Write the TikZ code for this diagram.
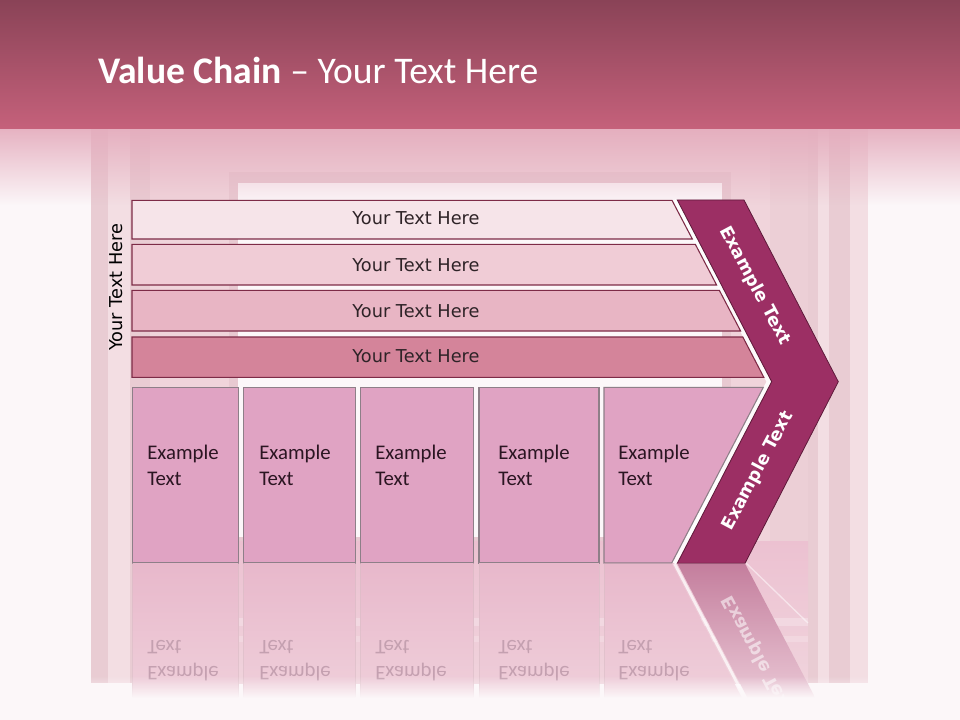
\documentclass[tikz,border=0pt]{standalone}
\usepackage{fontspec}
\setmainfont{Carlito}
\newfontfamily\dvs{DejaVu Sans}
\usetikzlibrary{fadings}
\definecolor{bg}{HTML}{FCF7F9}
\definecolor{hdrTop}{HTML}{8A4357}
\definecolor{hdrBot}{HTML}{C5617B}
\definecolor{hdrFade}{HTML}{E4ABBC}
\definecolor{frameA}{HTML}{F0D4DB}
\definecolor{stripDark}{HTML}{E9CCD3}
\definecolor{stripLight}{HTML}{F3DEE3}
\definecolor{winFrame}{HTML}{E8C9D1}
\definecolor{floorA}{HTML}{ECC1D1}
\definecolor{floorB}{HTML}{F0D3DC}
\definecolor{barA}{HTML}{F6E4E9}
\definecolor{barB}{HTML}{F0CCD6}
\definecolor{barC}{HTML}{E8B5C4}
\definecolor{barD}{HTML}{D4849A}
\definecolor{barLine}{HTML}{7D2B47}
\definecolor{boxFill}{HTML}{E0A3C3}
\definecolor{boxLine}{HTML}{8E7F88}
\definecolor{chevFill}{HTML}{9C2F64}
\definecolor{chevLine}{HTML}{5E1A3A}
\definecolor{boxTxt}{HTML}{2B1522}
\definecolor{barTxt}{HTML}{2E2327}
\definecolor{reflTxt}{HTML}{C4A0B0}
\definecolor{reflBoxA}{HTML}{E8B8CB}
\definecolor{reflBoxB}{HTML}{EFCFDA}
\definecolor{reflChevA}{HTML}{C47E9D}
\definecolor{reflChevB}{HTML}{E9C6D4}
\tikzfading[name=hdrfade, top color=transparent!10, bottom color=transparent!100]
\tikzfading[name=botfade, top color=transparent!100, bottom color=transparent!0]
\begin{document}
\begin{tikzpicture}[x=0.75pt,y=-0.75pt,
  barst/.style={draw=barLine, line width=0.8pt},
  boxst/.style={draw=boxLine, line width=0.8pt, fill=boxFill},
  bartext/.style={font=\dvs\fontsize{13.3}{16}\selectfont, text=barTxt, inner sep=0pt, anchor=base},
  boxtext/.style={font=\fontsize{15.6}{19.5}\selectfont, text=boxTxt, inner sep=0pt, anchor=base west},
  refltext/.style={font=\fontsize{15.6}{19.5}\selectfont, text=reflTxt, inner sep=0pt, anchor=base west, transform shape},
  chevtext/.style={font=\dvs\bfseries\fontsize{13.2}{16}\selectfont, text=white, inner sep=0pt}]
\useasboundingbox (0,0) rectangle (960,720);
% page background
\fill[bg] (0,0) rectangle (960,720);
% room frame
\fill[frameA] (91,129) rectangle (868,683);
\fill[stripDark] (91,129) rectangle (108,683);
\fill[stripLight] (108,129) rectangle (130,683);
\fill[stripDark] (130,129) rectangle (150,683);
\fill[stripDark!60!frameA] (770,129) rectangle (808,683);
\fill[stripDark] (808,129) rectangle (818,683);
\fill[stripLight] (818,129) rectangle (829,683);
\fill[stripDark] (829,129) rectangle (850,683);
\fill[stripLight] (850,129) rectangle (868,683);
% window
\fill[winFrame] (229,172) rectangle (731,541);
\fill[bg] (238,183) rectangle (722,537);
% floor
\shade[top color=floorA, bottom color=floorB] (150,541) rectangle (808,683);
\fill[white, opacity=0.25] (150,618) rectangle (808,626);
\fill[white, opacity=0.2] (150,636) rectangle (808,642);
\draw[white, opacity=0.5, line width=1pt] (746,563) -- (808,623);
% header
\shade[top color=hdrTop, bottom color=hdrBot] (0,0) rectangle (960,129);
\fill[hdrFade, path fading=hdrfade] (0,129) rectangle (960,205);
\node[font=\fontsize{28.2}{32}\selectfont, text=white, inner sep=0pt, anchor=base west] (title) at (98,84) {\textbf{Value Chain} – Your Text Here};
% vertical label
\node[font=\dvs\fontsize{13.3}{16}\selectfont, text=black, inner sep=0pt, anchor=base, rotate=90] (side) at (122.5,287.3) {Your Text Here};
% bevel highlight next to chevron
\draw[white, line width=3pt, opacity=0.9] (674.3,200) -- (768.7,381.7) -- (674.3,563.3);
% bars
\path[barst, fill=barA] (132,200.3) -- (672,200.3) -- (692.3,239) -- (132,239) -- cycle;
\path[barst, fill=barB] (132,244.3) -- (695.3,244.3) -- (716.6,285) -- (132,285) -- cycle;
\path[barst, fill=barC] (132,290.3) -- (719.3,290.3) -- (740.6,331) -- (132,331) -- cycle;
\path[barst, fill=barD] (132,337) -- (742.8,337) -- (763.8,377.3) -- (132,377.3) -- cycle;
\node[bartext] (bt1) at (416,224.5) {Your Text Here};
\node[bartext] (bt2) at (416,272) {Your Text Here};
\node[bartext] (bt3) at (416,317) {Your Text Here};
\node[bartext] (bt4) at (416,362.5) {Your Text Here};
% boxes
\path[boxst] (132.5,387.3) rectangle (238.3,563);
\path[boxst] (243.3,387.3) rectangle (355.3,563);
\path[boxst] (360.3,387.3) rectangle (473.7,563);
\path[boxst] (479,387.3) rectangle (599,563);
\path[boxst] (604,387.3) -- (763.3,387.3) -- (671.7,563) -- (604,563) -- cycle;
\node[boxtext] (e1) at (147,459.5) {Example};
\node[boxtext] (x1) at (147,485.5) {Text};
\node[boxtext] (e2) at (259,459.5) {Example};
\node[boxtext] (x2) at (259,485.5) {Text};
\node[boxtext] (e3) at (375,459.5) {Example};
\node[boxtext] (x3) at (375,485.5) {Text};
\node[boxtext] (e4) at (498,459.5) {Example};
\node[boxtext] (x4) at (498,485.5) {Text};
\node[boxtext] (e5) at (618,459.5) {Example};
\node[boxtext] (x5) at (618,485.5) {Text};
% chevron
\path[draw=chevLine, line width=0.6pt, fill=chevFill] (677.3,200) -- (744,200) -- (838.3,381.7) -- (745,563.3) -- (677.3,563.3) -- (771.7,381.7) -- cycle;
\node[chevtext, rotate=-62] (c1) at (755,286) {Example Text};
\node[chevtext, rotate=62] (c2) at (758,471) {Example Text};
% reflection
\begin{scope}
  \clip (91,563.6) rectangle (880,697);
  \foreach \a/\b in {132.5/238.3, 243.3/355.3, 360.3/473.7, 479/599}{
    \shade[top color=reflBoxA, bottom color=reflBoxB] (\a,563.6) rectangle (\b,697);
    \draw[stripDark!80!boxLine, line width=0.6pt, opacity=0.5] (\a,563.6) -- (\a,697) (\b,563.6) -- (\b,697);
  }
  \shade[top color=reflBoxA, bottom color=reflBoxB] (604,563.6) -- (671.7,563.6) -- (741.5,697) -- (604,697) -- cycle;
  \draw[stripDark!80!boxLine, line width=0.6pt, opacity=0.5] (604,563.6) -- (604,697);
  \draw[white, line width=2pt, opacity=0.7] (674.5,563.6) -- (744.5,697);
  \shade[top color=reflChevA, bottom color=reflChevB] (677.3,563.6) -- (745,563.6) -- (814.8,697) -- (747.1,697) -- cycle;
  \foreach \px/\nm in {147/1, 259/2, 375/3, 498/4, 618/5}{
    \begin{scope}[shift={(\px,666.5)}, yscale=-1]
      \node[refltext] (re\nm) at (0,0) {Example};
    \end{scope}
    \begin{scope}[shift={(\px,640.5)}, yscale=-1]
      \node[refltext] (rx\nm) at (0,0) {Text};
    \end{scope}
  }
  \begin{scope}[shift={(758,655)}, rotate=-62, yscale=-1]
    \node[chevtext, transform shape, opacity=0.55] (rc) at (0,0) {Example Text};
  \end{scope}
\end{scope}
\fill[bg, path fading=botfade] (91,676) rectangle (880,698);
\end{tikzpicture}
\end{document}
